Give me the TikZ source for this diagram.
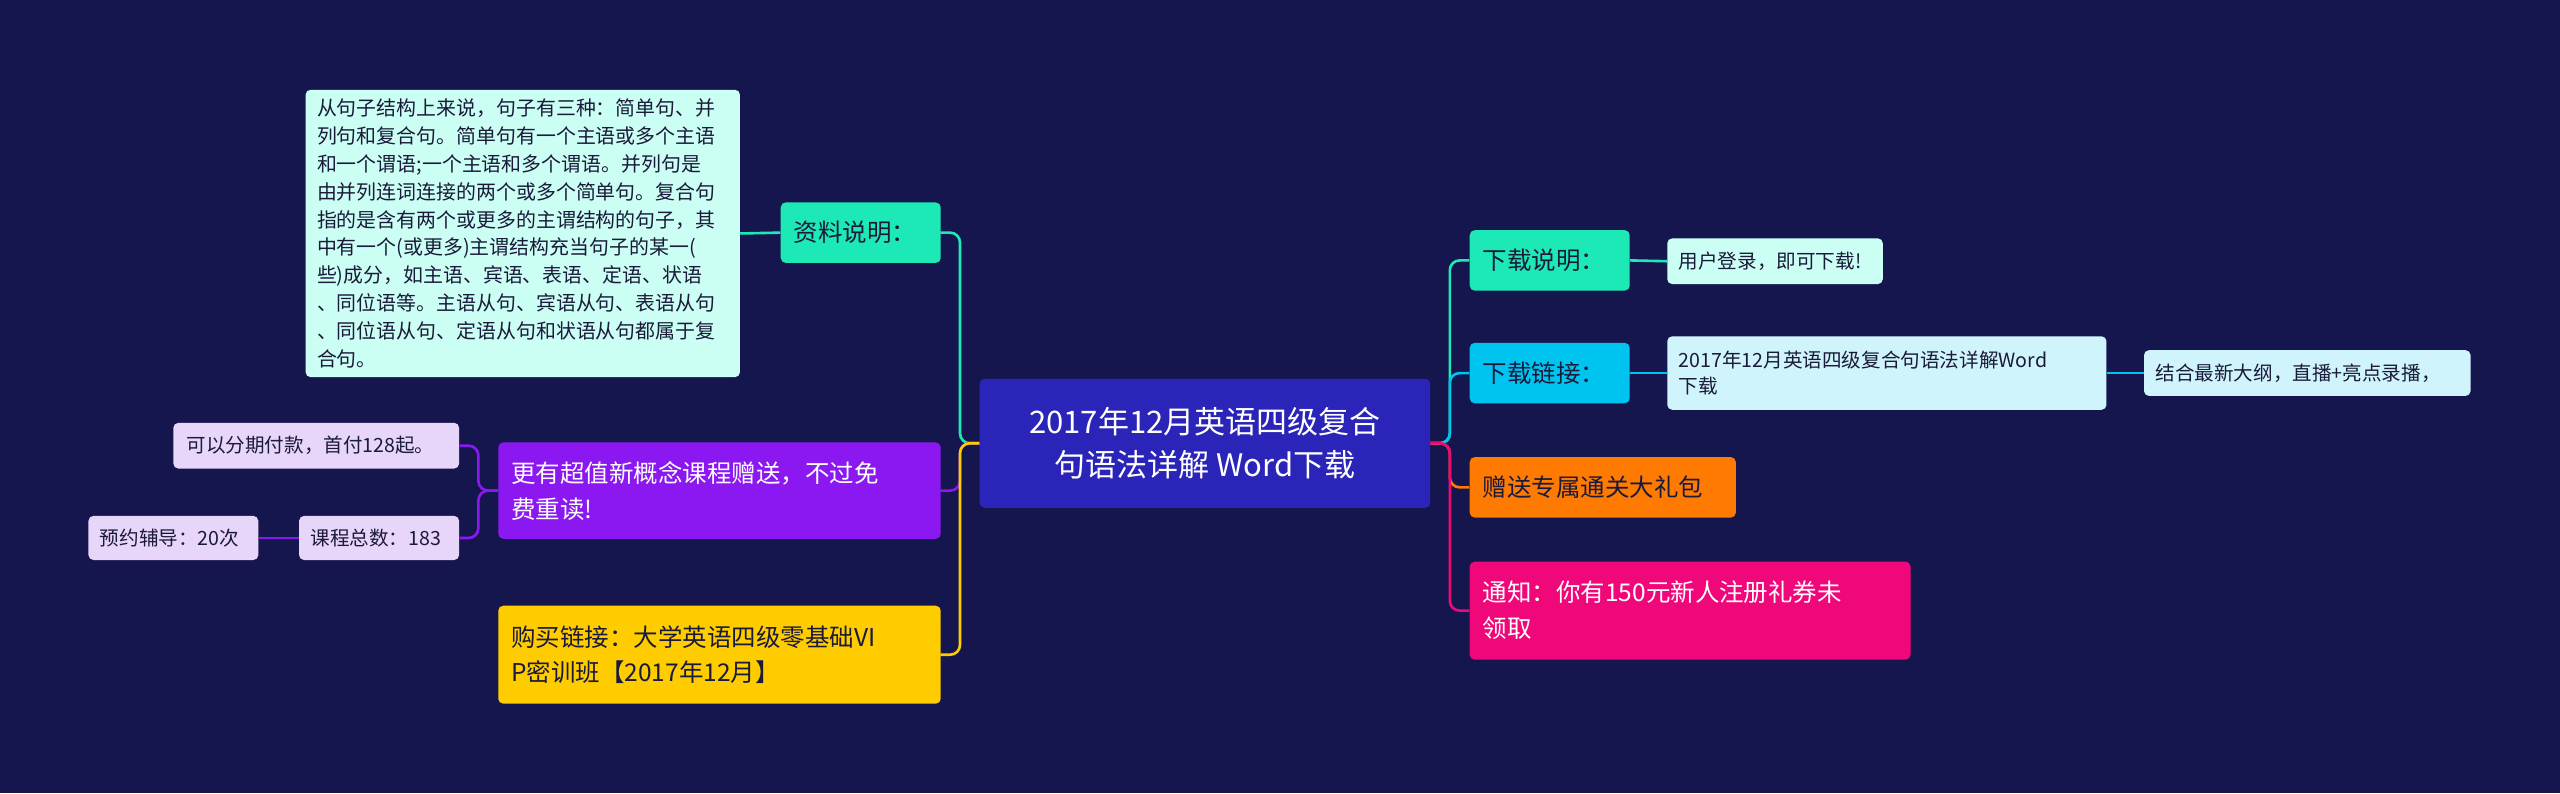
\documentclass[tikz,border=0pt]{standalone}
\usepackage{fontspec}
\setmainfont{Noto Sans CJK SC}
\XeTeXlinebreaklocale "zh"
\XeTeXlinebreakskip=0pt plus 1pt
\begin{document}
\begin{tikzpicture}[x=1pt,y=-1pt,
 box/.style={rounded corners=3pt,inner sep=0pt,align=left,anchor=north west},
 edge/.style={line width=1.6pt,rounded corners=6pt}]
\definecolor{bg}{HTML}{16164E}
\definecolor{cen}{HTML}{2A25B8}
\definecolor{teal}{HTML}{1DE9B6}
\definecolor{lteal}{HTML}{CCFFF4}
\definecolor{purp}{HTML}{8B18F0}
\definecolor{lpurp}{HTML}{E8D5FA}
\definecolor{yel}{HTML}{FFCC00}
\definecolor{cyan}{HTML}{00C4F0}
\definecolor{lcyan}{HTML}{D0F4FC}
\definecolor{oran}{HTML}{FF7A00}
\definecolor{pink}{HTML}{F0077A}
\definecolor{dk}{HTML}{1A1A3A}
\fill[bg] (0,0) rectangle (1568,486);
\useasboundingbox (0,0) rectangle (1568,486);
% edges (drawn first)
\coordinate (cl) at (600,271.5);
\coordinate (cr) at (876,271.5);
\draw[edge,teal] (cl) -- ++(-12,0) |- (576,142.5);
\draw[edge,purp] (cl) -- ++(-12,0) |- (576,300.5);
\draw[edge,yel] (cl) -- ++(-12,0) |- (576,401);
\draw[edge,teal] (cr) -- ++(12,0) |- (900,159.5);
\draw[edge,cyan] (cr) -- ++(12,0) |- (900,228.5);
\draw[edge,oran] (cr) -- ++(12,0) |- (900,298.5);
\draw[edge,pink] (cr) -- ++(12,0) |- (900,374);
% nodes
\node[box,fill=cen,minimum width=276pt,minimum height=79pt,align=center,text=white,anchor=center,font=\fontsize{19}{26}\selectfont] (c) at (738,271.5) {2017年12月英语四级复合\\句语法详解 Word下载};
\node[box,fill=teal,minimum width=98pt,minimum height=37pt,anchor=west,text=dk,font=\fontsize{15}{20}\selectfont,inner xsep=8pt,text width=82pt] (zl) at (478,142.5) {资料说明：};
\node[box,fill=lteal,minimum width=266pt,minimum height=176pt,text=dk,font=\fontsize{12.2}{17.1}\selectfont,inner xsep=7pt,text width=252pt,anchor=west] (zlt) at (187,143) {从句子结构上来说，句子有三种：简单句、并\\列句和复合句。简单句有一个主语或多个主语\\和一个谓语;一个主语和多个谓语。并列句是\\由并列连词连接的两个或多个简单句。复合句\\指的是含有两个或更多的主谓结构的句子，其\\中有一个(或更多)主谓结构充当句子的某一(\\些)成分，如主语、宾语、表语、定语、状语\\、同位语等。主语从句、宾语从句、表语从句\\、同位语从句、定语从句和状语从句都属于复\\合句。};
\node[box,fill=purp,minimum width=271pt,minimum height=59pt,anchor=west,text=white,font=\fontsize{15}{22}\selectfont,inner xsep=8pt,text width=255pt] (gy) at (305,300.5) {更有超值新概念课程赠送，不过免\\费重读!};
\node[box,fill=lpurp,minimum width=175pt,minimum height=28pt,anchor=west,text=dk,font=\fontsize{12}{16}\selectfont,inner xsep=8pt,text width=159pt] (fq) at (106,273) {可以分期付款，首付128起。};
\node[box,fill=lpurp,minimum width=98pt,minimum height=27pt,anchor=west,text=dk,font=\fontsize{12}{16}\selectfont,inner xsep=7pt,text width=84pt] (kc) at (183,329.5) {课程总数：183};
\node[box,fill=lpurp,minimum width=104pt,minimum height=27pt,anchor=west,text=dk,font=\fontsize{12}{16}\selectfont,inner xsep=7pt,text width=90pt] (yy) at (54,329.5) {预约辅导：20次};
\node[box,fill=yel,minimum width=271pt,minimum height=60pt,anchor=west,text=dk,font=\fontsize{15}{22}\selectfont,inner xsep=8pt,text width=255pt] (gm) at (305,401) {购买链接：大学英语四级零基础VI\\P密训班【2017年12月】};
\node[box,fill=teal,minimum width=98pt,minimum height=37pt,anchor=west,text=dk,font=\fontsize{15}{20}\selectfont,inner xsep=8pt,text width=82pt] (xs) at (900,159.5) {下载说明：};
\node[box,fill=lteal,minimum width=132pt,minimum height=28pt,anchor=west,text=dk,font=\fontsize{12}{16}\selectfont,inner xsep=7pt,text width=118pt] (yh) at (1021,160) {用户登录，即可下载!};
\node[box,fill=cyan,minimum width=98pt,minimum height=37pt,anchor=west,text=dk,font=\fontsize{15}{20}\selectfont,inner xsep=8pt,text width=82pt] (xl) at (900,228.5) {下载链接：};
\node[box,fill=lcyan,minimum width=269pt,minimum height=45pt,anchor=west,text=dk,font=\fontsize{12}{16}\selectfont,inner xsep=7pt,text width=255pt] (wd) at (1021,228.5) {2017年12月英语四级复合句语法详解Word\\下载};
\node[box,fill=lcyan,minimum width=200pt,minimum height=28pt,anchor=west,text=dk,font=\fontsize{12}{16}\selectfont,inner xsep=7pt,text width=186pt] (jh) at (1313,228.5) {结合最新大纲，直播+亮点录播，};
\node[box,fill=oran,minimum width=163pt,minimum height=37pt,anchor=west,text=dk,font=\fontsize{15}{20}\selectfont,inner xsep=8pt,text width=147pt] (zs) at (900,298.5) {赠送专属通关大礼包};
\node[box,fill=pink,minimum width=270pt,minimum height=60pt,anchor=west,text=white,font=\fontsize{15}{22}\selectfont,inner xsep=8pt,text width=254pt] (tz) at (900,374) {通知：你有150元新人注册礼券未\\领取};
% sub edges
\draw[edge,teal] (zl.west) -- (zlt.east);
\draw[edge,purp] (gy.west) -- ++(-12,0) |- (fq.east);
\draw[edge,purp] (gy.west) -- ++(-12,0) |- (kc.east);
\draw[edge,purp] (kc.west) -- (yy.east);
\draw[edge,teal] (xs.east) -- (yh.west);
\draw[edge,cyan] (xl.east) -- (wd.west);
\draw[edge,cyan] (wd.east) -- (jh.west);
\end{tikzpicture}
\end{document}
